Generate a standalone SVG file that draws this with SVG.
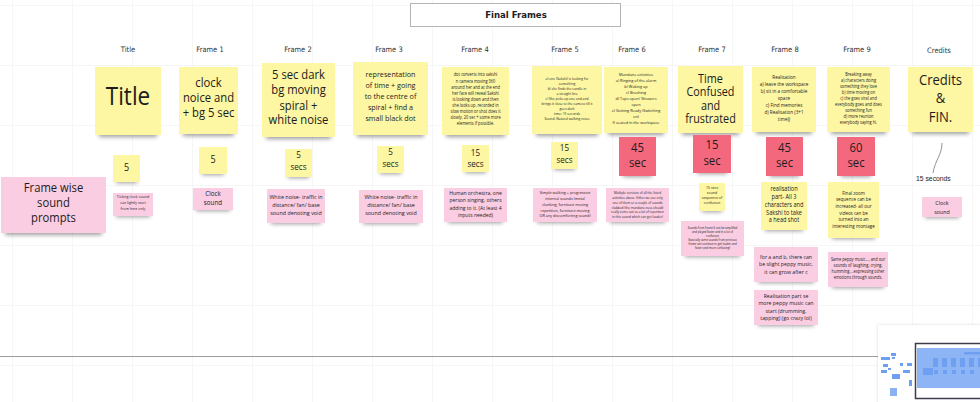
<svg xmlns="http://www.w3.org/2000/svg" width="980" height="402" viewBox="0 0 980 402">
<defs>
<filter id="bl" x="-30%" y="-100%" width="160%" height="300%"><feGaussianBlur stdDeviation="2.2"/></filter>
<filter id="ps" x="-20%" y="-20%" width="140%" height="140%"><feDropShadow dx="0" dy="0" stdDeviation="1.5" flood-color="#000" flood-opacity="0.15"/></filter>
<pattern id="grid" x="12" y="5" width="60" height="60" patternUnits="userSpaceOnUse"><path d="M0 0V60M0 0H60" fill="none" stroke="#ededed" stroke-width="1"/></pattern>
</defs>
<style>
.y{fill:#fdf6a3}.p{fill:#fbcde2}.r{fill:#f4687d}
.sd{fill:#000;opacity:.38;filter:url(#bl)}
.t{font-family:"Open Sans",sans-serif;fill:#1c1c1c;text-anchor:middle;transform-box:fill-box;transform-origin:center;transform:scaleX(.9)}
.h{font-family:"DejaVu Sans Condensed","DejaVu Sans",sans-serif;font-stretch:condensed;font-size:7.5px;fill:#333;text-anchor:middle}
.mm{fill:#6f9ff0}
</style>
<rect width="980" height="402" fill="#fff"/>
<rect width="980" height="402" fill="url(#grid)"/>
<line x1="0" y1="356.5" x2="878" y2="356.5" stroke="#9c9c9c" stroke-width="1"/>

<g id="title-box">
<rect x="410.5" y="3.5" width="210" height="23" fill="#fff" stroke="#b4b4b4" stroke-width="1"/>
<text x="516" y="18" font-family="DejaVu Sans Condensed, DejaVu Sans, sans-serif" font-stretch="condensed" font-weight="bold" font-size="9.5" fill="#222" text-anchor="middle">Final Frames</text>
</g>

<g id="headers">
<text class="h" x="128" y="51.5">Title</text>
<text class="h" x="210" y="51.5">Frame 1</text>
<text class="h" x="298" y="51.5">Frame 2</text>
<text class="h" x="389" y="51.5">Frame 3</text>
<text class="h" x="475" y="51.5">Frame 4</text>
<text class="h" x="565" y="51.5">Frame 5</text>
<text class="h" x="632" y="51.5">Frame 6</text>
<text class="h" x="712" y="51.5">Frame 7</text>
<text class="h" x="785" y="51.5">Frame 8</text>
<text class="h" x="857" y="51.5">Frame 9</text>
<text class="h" x="939" y="52.5">Credits</text>
</g>

<g id="connectors">
<path d="M942 143C942 155 935 160 933 173" fill="none" stroke="#777" stroke-width="0.8"/>
</g>

<!-- frame notes -->
<g id="n-title"><rect class="sd" x="99" y="128" width="58" height="9"/><rect class="y" x="95" y="67" width="66" height="68"/>
<text class="t" font-size="25" x="128" y="105">Title</text></g>

<g id="n-f1"><rect class="sd" x="183" y="127" width="51" height="9"/><rect class="y" x="179" y="67" width="59" height="67"/>
<text class="t" font-size="12.5"><tspan x="208.5" y="87">clock</tspan><tspan x="208.5" y="102.5">noice and</tspan><tspan x="208.5" y="117.5">+ bg 5 sec</tspan></text></g>

<g id="n-f2"><rect class="sd" x="266" y="130" width="65" height="9"/><rect class="y" x="262" y="63" width="73" height="74"/>
<text class="t" font-size="12.5"><tspan x="298.5" y="79">5 sec dark</tspan><tspan x="298.5" y="94.3">bg moving</tspan><tspan x="298.5" y="109.6">spiral +</tspan><tspan x="298.5" y="124.5">white noise</tspan></text></g>

<g id="n-f3"><rect class="sd" x="357" y="128" width="67" height="9"/><rect class="y" x="353" y="62" width="75" height="73"/>
<text class="t" font-size="8"><tspan x="390.5" y="77">representation</tspan><tspan x="390.5" y="88">of time + going</tspan><tspan x="390.5" y="99">to the centre of</tspan><tspan x="390.5" y="110">spiral + find a</tspan><tspan x="390.5" y="121">small black dot</tspan></text></g>

<g id="n-f4"><rect class="sd" x="446" y="128" width="59" height="9"/><rect class="y" x="442" y="67" width="67" height="68"/>
<text class="t" font-size="4.4"><tspan x="475.5" y="76.5">dot converts into sakshi</tspan><tspan x="475.5" y="82.6">n camera moving 360</tspan><tspan x="475.5" y="88.7">around her and at the end</tspan><tspan x="475.5" y="94.8">her face will reveal Sakshi</tspan><tspan x="475.5" y="100.9">is looking down and then</tspan><tspan x="475.5" y="107">she looks up. recorded in</tspan><tspan x="475.5" y="113.1">slow motion or shot does it</tspan><tspan x="475.5" y="119.2">slowly. 20 sec + some more</tspan><tspan x="475.5" y="125.3">elements if possible.</tspan></text></g>

<g id="n-f5"><rect class="sd" x="536" y="127" width="62" height="9"/><rect class="y" x="532" y="66" width="70" height="68"/>
<text class="t" font-size="3.7"><tspan x="567" y="80">a) one (Sakshi) is looking for</tspan><tspan x="567" y="85">something</tspan><tspan x="567" y="90">b) she finds the candle in</tspan><tspan x="567" y="95">a straight line</tspan><tspan x="567" y="100">c) She picks up one and and</tspan><tspan x="567" y="105">brings it close to the camera till it</tspan><tspan x="567" y="110">goes dark</tspan><tspan x="567" y="115">time: 15 seconds</tspan><tspan x="567" y="120">Sound- Natural walking noise</tspan></text></g>

<g id="n-f6"><rect class="sd" x="608" y="126" width="56" height="9"/><rect class="y" x="604" y="67" width="64" height="66"/>
<text class="t" font-size="4.3"><tspan x="636" y="76.5">Mundane activities</tspan><tspan x="636" y="82.4">a) Ringing of the alarm</tspan><tspan x="636" y="88.3">b) Waking up</tspan><tspan x="636" y="94.2">c) Brushing</tspan><tspan x="636" y="100.1">d) Taps open/ Showers</tspan><tspan x="636" y="106">open</tspan><tspan x="636" y="111.9">e) Getting Ready (Switching</tspan><tspan x="636" y="117.8">on)</tspan><tspan x="636" y="123.7">f) seated in the workspace</tspan></text></g>

<g id="n-f7"><rect class="sd" x="682" y="126" width="57" height="9"/><rect class="y" x="678" y="66" width="65" height="67"/>
<text class="t" font-size="12"><tspan x="710.5" y="83">Time</tspan><tspan x="710.5" y="96.5">Confused</tspan><tspan x="710.5" y="110">and</tspan><tspan x="710.5" y="123.5">frustrated</tspan></text></g>

<g id="n-f8"><rect class="sd" x="756" y="125" width="56" height="9"/><rect class="y" x="752" y="67" width="64" height="65"/>
<text class="t" font-size="5.1"><tspan x="784" y="79.5">Realisation</tspan><tspan x="784" y="86.5">a) leave the workspace</tspan><tspan x="784" y="93.5">b) sit in a comfortable</tspan><tspan x="784" y="100.5">space</tspan><tspan x="784" y="107.5">c) Find memories</tspan><tspan x="784" y="114.5">d) Realisation (3+1</tspan><tspan x="784" y="121.5">time))</tspan></text></g>

<g id="n-f9"><rect class="sd" x="831" y="125" width="55" height="9"/><rect class="y" x="827" y="67" width="63" height="65"/>
<text class="t" font-size="4.4"><tspan x="858.5" y="76.5">Breaking away</tspan><tspan x="858.5" y="82.5">a) characters doing</tspan><tspan x="858.5" y="88.5">something they love</tspan><tspan x="858.5" y="94.5">b) time moving on</tspan><tspan x="858.5" y="100.5">c) the goes viral and</tspan><tspan x="858.5" y="106.5">everybody goes and does</tspan><tspan x="858.5" y="112.5">something fun</tspan><tspan x="858.5" y="118.5">d) more reunion</tspan><tspan x="858.5" y="124.5">everybody saying hi.</tspan></text></g>

<g id="n-credits"><rect class="sd" x="912" y="125" width="57" height="9"/><rect class="y" x="908" y="67" width="65" height="65"/>
<text class="t" font-size="14.5"><tspan x="940.5" y="85">Credits</tspan><tspan x="940.5" y="103.3">&amp;</tspan><tspan x="940.5" y="121.7">FIN.</tspan></text></g>

<!-- duration notes -->
<g id="d-title"><rect class="sd" x="116" y="176" width="21" height="7"/><rect class="y" x="113" y="155" width="27" height="27"/>
<text class="t" font-size="10" x="126.5" y="171">5</text></g>
<g id="d-f1"><rect class="sd" x="202" y="168" width="22" height="7"/><rect class="y" x="199" y="147" width="28" height="27"/>
<text class="t" font-size="10" x="213" y="162.7">5</text></g>
<g id="d-f2"><rect class="sd" x="288" y="171" width="21" height="7"/><rect class="y" x="285" y="149" width="27" height="28"/>
<text class="t" font-size="9"><tspan x="298.5" y="158.3">5</tspan><tspan x="298.5" y="170">secs</tspan></text></g>
<g id="d-f3"><rect class="sd" x="380" y="167" width="21" height="7"/><rect class="y" x="377" y="146" width="27" height="27"/>
<text class="t" font-size="9"><tspan x="390.5" y="155">5</tspan><tspan x="390.5" y="166.7">secs</tspan></text></g>
<g id="d-f4"><rect class="sd" x="465" y="166" width="21" height="7"/><rect class="y" x="462" y="145" width="27" height="27"/>
<text class="t" font-size="9"><tspan x="475.5" y="155.7">15</tspan><tspan x="475.5" y="166.7">secs</tspan></text></g>
<g id="d-f5"><rect class="sd" x="554" y="163" width="21" height="7"/><rect class="y" x="551" y="142" width="27" height="27"/>
<text class="t" font-size="9"><tspan x="564.5" y="151">15</tspan><tspan x="564.5" y="162.7">secs</tspan></text></g>
<g id="d-f6"><rect class="sd" x="623" y="169" width="29" height="8"/><rect class="r" x="619" y="137" width="37" height="39"/>
<text class="t" font-size="12.5"><tspan x="637.5" y="152.3">45</tspan><tspan x="637.5" y="167.3">sec</tspan></text></g>
<g id="d-f7"><rect class="sd" x="697" y="166" width="30" height="8"/><rect class="r" x="693" y="135" width="38" height="38"/>
<text class="t" font-size="12.5"><tspan x="712" y="149.5">15</tspan><tspan x="712" y="165">sec</tspan></text></g>
<g id="d-f8"><rect class="sd" x="770" y="169" width="29" height="8"/><rect class="r" x="766" y="137" width="37" height="39"/>
<text class="t" font-size="12.5"><tspan x="784.5" y="151.7">45</tspan><tspan x="784.5" y="167.3">sec</tspan></text></g>
<g id="d-f9"><rect class="sd" x="841" y="169" width="30" height="8"/><rect class="r" x="837" y="137" width="38" height="39"/>
<text class="t" font-size="12.5"><tspan x="856" y="151.7">60</tspan><tspan x="856" y="167.3">sec</tspan></text></g>

<!-- sound notes -->
<g id="s-label"><rect class="sd" x="5" y="226" width="97" height="9"/><rect class="p" x="1" y="177" width="105" height="56"/>
<text class="t" font-size="12.5"><tspan x="53.5" y="192">Frame wise</tspan><tspan x="53.5" y="207.5">sound</tspan><tspan x="53.5" y="222.5">prompts</tspan></text></g>

<g id="s-title"><rect class="sd" x="116" y="210" width="34" height="7"/><rect class="p" x="113" y="193" width="40" height="23"/>
<text class="t" font-size="4"><tspan x="133" y="198.5">Ticking clock sound</tspan><tspan x="133" y="204.5">can lightly start</tspan><tspan x="133" y="210.5">from here only</tspan></text></g>

<g id="s-f1"><rect class="sd" x="196" y="204" width="34" height="7"/><rect class="p" x="193" y="188" width="40" height="22"/>
<text class="t" font-size="7"><tspan x="213" y="195.7">Clock</tspan><tspan x="213" y="205">sound</tspan></text></g>

<g id="s-f2"><rect class="sd" x="271" y="216" width="50" height="8"/><rect class="p" x="267" y="189" width="58" height="34"/>
<text class="t" font-size="6"><tspan x="296" y="199">White noise- traffic in</tspan><tspan x="296" y="207">distance/ fan/ base</tspan><tspan x="296" y="215">sound denoting void</tspan></text></g>

<g id="s-f3"><rect class="sd" x="363" y="216" width="56" height="8"/><rect class="p" x="359" y="190" width="64" height="33"/>
<text class="t" font-size="6"><tspan x="391" y="199">White noise- traffic in</tspan><tspan x="391" y="207">distance/ fan/ base</tspan><tspan x="391" y="215">sound denoting void</tspan></text></g>

<g id="s-f4"><rect class="sd" x="448" y="215" width="55" height="8"/><rect class="p" x="444" y="188" width="63" height="34"/>
<text class="t" font-size="5.6"><tspan x="475.5" y="195">Human orchestra, one</tspan><tspan x="475.5" y="202.5">person singing, others</tspan><tspan x="475.5" y="210">adding to it. (At least 4</tspan><tspan x="475.5" y="217.5">inputs needed)</tspan></text></g>

<g id="s-f5"><rect class="sd" x="537" y="215" width="56" height="8"/><rect class="p" x="533" y="188" width="64" height="34"/>
<text class="t" font-size="4.2"><tspan x="565" y="194.5">Simple walking + progressive</tspan><tspan x="565" y="200.2">internal sounds (metal</tspan><tspan x="565" y="206">clunking, furniture moving</tspan><tspan x="565" y="211.7">repetition, furniture moving</tspan><tspan x="565" y="217.5">OR any discomforting sound)</tspan></text></g>

<g id="s-f6"><rect class="sd" x="610" y="215" width="55" height="8"/><rect class="p" x="606" y="188" width="63" height="34"/>
<text class="t" font-size="3.5"><tspan x="637.5" y="194.3">Multiple versions of all the listed</tspan><tspan x="637.5" y="199.1">activities above. Either we use only</tspan><tspan x="637.5" y="203.9">one of them or a couple of sounds</tspan><tspan x="637.5" y="208.7">clubbed (the mundane-ness should</tspan><tspan x="637.5" y="213.5">really come out so a lot of repetition</tspan><tspan x="637.5" y="218.3">in this sound which can get louder)</tspan></text></g>

<g id="s-f7a"><rect class="sd" x="702" y="204" width="20" height="8"/><rect class="y" x="699" y="183" width="26" height="28"/>
<text class="t" font-size="4"><tspan x="712" y="189.5">15 secs</tspan><tspan x="712" y="194.5">sound</tspan><tspan x="712" y="199.5">sequence of</tspan><tspan x="712" y="204.5">confusion</tspan></text></g>

<g id="s-f8a"><rect class="sd" x="765" y="223" width="38" height="8"/><rect class="y" x="761" y="182" width="46" height="48"/>
<text class="t" font-size="6.2"><tspan x="784" y="191">realisation</tspan><tspan x="784" y="199">part- All 3</tspan><tspan x="784" y="207">characters and</tspan><tspan x="784" y="215">Sakshi to take</tspan><tspan x="784" y="222.5">a head shot</tspan></text></g>

<g id="s-f9a"><rect class="sd" x="832" y="231" width="43" height="8"/><rect class="y" x="828" y="182" width="51" height="56"/>
<text class="t" font-size="5"><tspan x="853.5" y="194.8">Final zoom</tspan><tspan x="853.5" y="201.4">sequence can be</tspan><tspan x="853.5" y="208">increased- all our</tspan><tspan x="853.5" y="214.6">videos can be</tspan><tspan x="853.5" y="221.2">turned into an</tspan><tspan x="853.5" y="227.8">interesting montage</tspan></text></g>

<g id="s-f7b"><rect class="sd" x="685" y="249" width="55" height="8"/><rect class="p" x="681" y="221" width="63" height="35"/>
<text class="t" font-size="3.1"><tspan x="712.5" y="229">Sounds from frame 6 can be amplified</tspan><tspan x="712.5" y="233">and played faster and in a lot of</tspan><tspan x="712.5" y="237">confusion</tspan><tspan x="712.5" y="241">(basically same sounds from previous</tspan><tspan x="712.5" y="245">frame can continue to get louder and</tspan><tspan x="712.5" y="249">faster and more confusing)</tspan></text></g>

<g id="s-f8b"><rect class="sd" x="758" y="275" width="56" height="8"/><rect class="p" x="754" y="247" width="64" height="35"/>
<text class="t" font-size="5.8"><tspan x="786" y="259">for a and b, there can</tspan><tspan x="786" y="266.5">be slight peppy music,</tspan><tspan x="786" y="274">it can grow after c</tspan></text></g>

<g id="s-f8c"><rect class="sd" x="758" y="318" width="56" height="8"/><rect class="p" x="754" y="290" width="64" height="35"/>
<text class="t" font-size="5.8"><tspan x="786" y="298">Realisation part se</tspan><tspan x="786" y="305.5">more peppy music can</tspan><tspan x="786" y="313">start (drumming,</tspan><tspan x="786" y="320.5">tapping) (go crazy lol)</tspan></text></g>

<g id="s-f9b"><rect class="sd" x="832" y="280" width="52" height="8"/><rect class="p" x="828" y="252" width="60" height="35"/>
<text class="t" font-size="4.4"><tspan x="858" y="261.5">Same peppy music.... and our</tspan><tspan x="858" y="267.3">sounds of laughing, crying,</tspan><tspan x="858" y="273.1">humming....expressing other</tspan><tspan x="858" y="278.9">emotions through sounds.</tspan></text></g>

<g id="s-credits"><rect class="sd" x="925" y="211" width="34" height="7"/><rect class="p" x="922" y="197" width="40" height="20"/>
<text class="t" font-size="6"><tspan x="942" y="205.5">Clock</tspan><tspan x="942" y="214">sound</tspan></text></g>

<g id="credits-time"><text x="916" y="181" font-family="Liberation Sans, Arial, sans-serif" font-size="6.8" fill="#222">15 seconds</text></g>

<g id="minimap">
<rect x="878" y="325" width="104" height="80" fill="#fff" filter="url(#ps)"/>
<rect class="mm" x="881" y="357" width="9" height="3"/>
<rect class="mm" x="891" y="353" width="5" height="3"/>
<rect class="mm" x="892" y="357" width="3" height="2"/>
<rect class="mm" x="883" y="364" width="5" height="3"/>
<rect class="mm" x="881" y="370" width="6" height="3"/>
<rect class="mm" x="888" y="368" width="3" height="2"/>
<rect class="mm" x="892" y="374" width="8" height="5"/>
<rect class="mm" x="900" y="363" width="3" height="3"/>
<rect class="mm" x="907" y="363" width="5" height="3"/>
<rect class="mm" x="903" y="370" width="7" height="3"/>
<rect class="mm" x="909" y="380" width="3" height="6"/>
<rect class="mm" x="890" y="388" width="7" height="8" opacity=".8"/>
<rect x="915.5" y="343.5" width="70" height="55" fill="none" stroke="#3c3c4c" stroke-width="1.5"/>
<rect x="917" y="348" width="63" height="40" fill="#8db4f4"/>
<rect class="mm" x="923" y="368" width="10" height="7"/>
<rect class="mm" x="933" y="358" width="5" height="9"/>
<rect class="mm" x="942" y="358" width="5" height="9"/>
<rect class="mm" x="951" y="358" width="5" height="9"/>
<rect class="mm" x="960" y="358" width="5" height="9"/>
<rect class="mm" x="969" y="358" width="5" height="9"/>
<rect class="mm" x="978" y="358" width="2" height="9"/>
<rect class="mm" x="964" y="352" width="16" height="2.5"/>
<rect class="mm" x="934" y="370" width="4" height="4"/>
<rect class="mm" x="943" y="370" width="4" height="4"/>
<rect class="mm" x="952" y="370" width="4" height="4"/>
<rect class="mm" x="961" y="370" width="4" height="4"/>
<rect class="mm" x="970" y="370" width="4" height="4"/>
</g>
</svg>
